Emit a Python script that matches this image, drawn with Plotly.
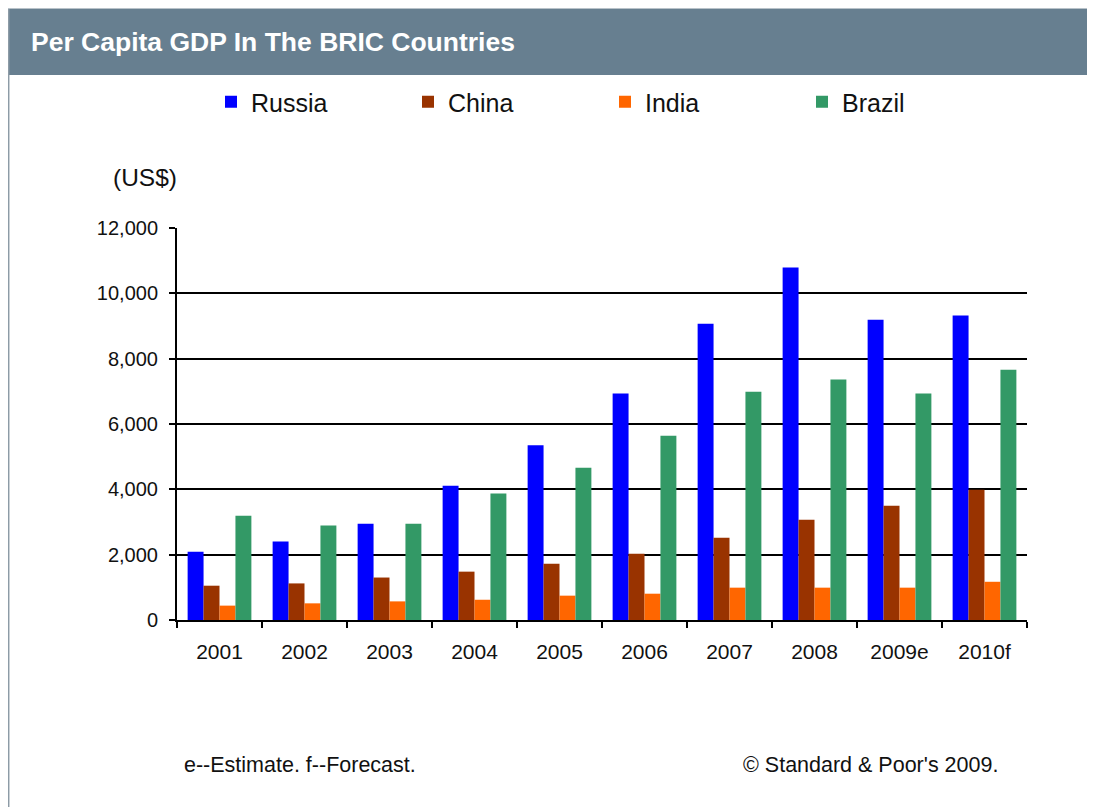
import plotly.graph_objects as go

years = ["2001", "2002", "2003", "2004", "2005", "2006", "2007", "2008", "2009e", "2010f"]
russia = [2090, 2400, 2950, 4110, 5350, 6930, 9070, 10790, 9190, 9320]
china = [1050, 1120, 1300, 1480, 1720, 2030, 2520, 3070, 3500, 3990]
india = [440, 510, 570, 620, 745, 805, 990, 990, 990, 1170]
brazil = [3190, 2890, 2950, 3870, 4660, 5640, 6990, 7360, 6930, 7660]

series = [("Russia", russia, "#0000ff"), ("China", china, "#993300"),
          ("India", india, "#ff6600"), ("Brazil", brazil, "#339966")]

OFF = 8  # page body margin
W, H = 1095 - OFF, 807 - OFF
PL, PR, PT, PB = 177, 1027, 228, 620  # reference pixel coords

def px(x):
    return (x - PL) / (PR - PL)

def py(y):
    return (PB - y) / (PB - PT)

FONT = "Liberation Sans, Arial, sans-serif"

fig = go.Figure()
for name, vals, col in series:
    fig.add_trace(go.Bar(x=years, y=vals, name=name, marker=dict(color=col, line=dict(width=0))))

fig.update_layout(
    width=W, height=H,
    margin=dict(l=PL - OFF, r=1095 - PR, t=PT - OFF, b=807 - PB, pad=0),
    paper_bgcolor="#ffffff", plot_bgcolor="#ffffff",
    barmode="group", bargap=0.25, bargroupgap=0,
    font=dict(family=FONT, color="#111111"),
    showlegend=True,
    legend=dict(orientation="h", x=px(211), xanchor="left", y=py(102), yanchor="middle",
                font=dict(size=25, family=FONT, color="#111111"),
                entrywidth=152, entrywidthmode="pixels", bgcolor="rgba(0,0,0,0)",
                traceorder="normal", itemclick=False),
    xaxis=dict(showline=True, linecolor="black", linewidth=2, ticks="outside",
               tickson="boundaries", ticklen=6, tickcolor="black", tickwidth=2,
               ticklabelstandoff=12,
               tickfont=dict(size=21, family=FONT, color="#111111"), showgrid=False),
    yaxis=dict(range=[0, 12000], dtick=2000, tickformat=",", showline=True, linecolor="black",
               linewidth=2, ticks="outside", ticklen=6, tickcolor="black", tickwidth=2,
               ticklabelstandoff=7,
               showgrid=True, gridcolor="black", gridwidth=1.6, zeroline=False,
               tickfont=dict(size=20, family=FONT, color="#111111")),
)

shapes = [
    dict(type="rect", xref="paper", yref="paper", x0=px(9), x1=px(1100), y0=py(75), y1=py(8.5),
         fillcolor="#677f90", line=dict(width=0), layer="above"),
    dict(type="line", xref="paper", yref="paper", x0=px(8.7), x1=px(8.7), y0=py(8), y1=py(812),
         line=dict(color="#8d9ba6", width=1.5)),
    dict(type="line", xref="paper", yref="paper", x0=px(8), x1=px(1100), y0=py(8.5), y1=py(8.5),
         line=dict(color="#b8c2c9", width=1)),
]
fig.update_layout(shapes=shapes)

annotations = [
    dict(text="<b>Per Capita GDP In The BRIC Countries</b>", x=px(29), y=py(42),
         xanchor="left", yanchor="middle", font=dict(size=26.5, color="white", family=FONT)),
    dict(text="(US$)", x=px(111), y=py(178), xanchor="left", yanchor="middle",
         font=dict(size=24.5, color="#111111", family=FONT)),
    dict(text="e--Estimate. f--Forecast.", x=px(182), y=py(765), xanchor="left", yanchor="middle",
         font=dict(size=21.5, color="#111111", family=FONT)),
    dict(text="© Standard & Poor's 2009.", x=px(741), y=py(765), xanchor="left", yanchor="middle",
         font=dict(size=21.5, color="#111111", family=FONT)),
]
for a in annotations:
    a.update(xref="paper", yref="paper", showarrow=False)
fig.update_layout(annotations=annotations)

fig.write_html("out.html")
